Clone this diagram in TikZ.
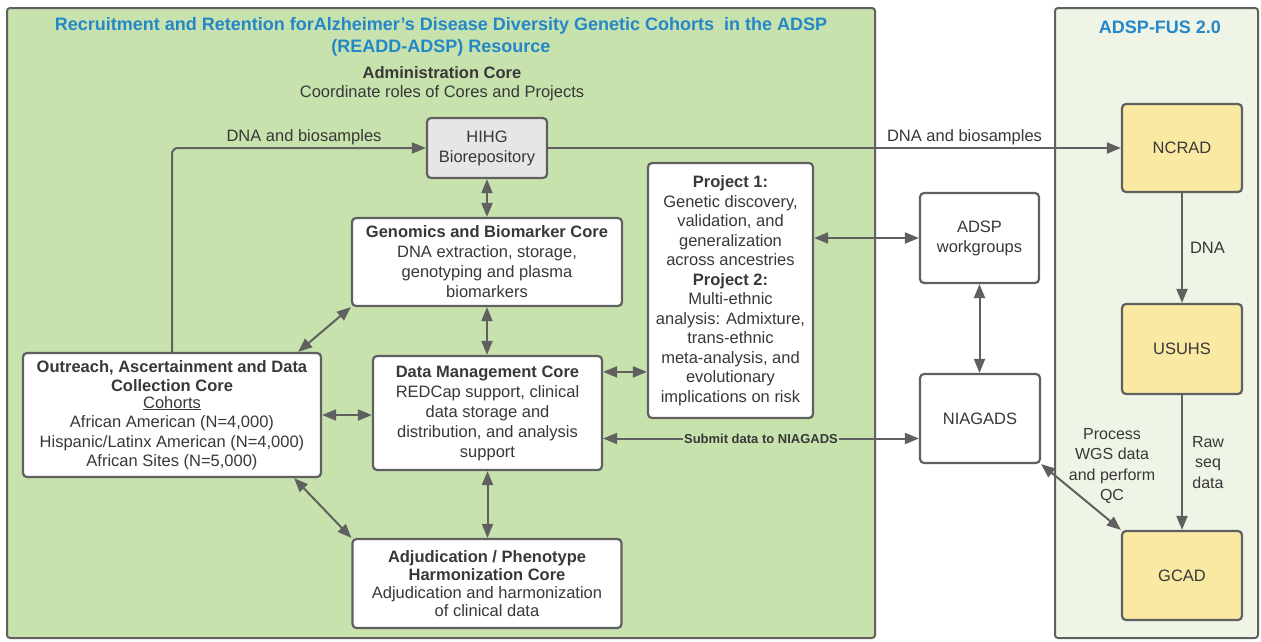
\documentclass[tikz,border=0pt]{standalone}
\usepackage{fontspec}
\setmainfont{Liberation Sans}
\usetikzlibrary{arrows.meta,calc}
\definecolor{linegray}{HTML}{606060}
\definecolor{textgray}{HTML}{383838}
\definecolor{cohortgreen}{HTML}{C8E2AE}
\definecolor{fusgreen}{HTML}{EEF4E6}
\definecolor{repogray}{HTML}{E6E6E6}
\definecolor{fusyellow}{HTML}{F9E9A3}
\definecolor{titleblue}{HTML}{2487C8}
\newcommand{\bodyfont}{\fontsize{16.5}{20}\selectfont}
\tikzset{
  core/.style={draw=linegray, line width=2.2pt, rounded corners=4pt, fill=white,
    align=center, inner sep=0pt, text=textgray, font=\bodyfont},
  repo/.style={core, fill=repogray},
  fusbox/.style={core, fill=fusyellow},
  lbl/.style={align=center, inner sep=1pt, text=textgray, font=\bodyfont},
  link/.style={draw=linegray, line width=2pt, -{Triangle[length=14pt,width=11pt]}},
  both/.style={link, {Triangle[length=14pt,width=11pt]}-{Triangle[length=14pt,width=11pt]}},
}

\begin{document}
\begin{tikzpicture}[x=1pt,y=-1pt]
\useasboundingbox (0,0) rectangle (1261,641);
% Drawing the two panels
\draw[draw=linegray, line width=2pt, fill=cohortgreen, rounded corners=3pt] (7,8) rectangle (875,638);
\draw[draw=linegray, line width=2pt, fill=fusgreen, rounded corners=3pt] (1055,8) rectangle (1258,638);
\node[lbl, text=titleblue, font=\fontsize{18}{22}\selectfont\bfseries] (title) at (441,37)
  {Recruitment and Retention forAlzheimer’s Disease Diversity Genetic Cohorts\ \ in the ADSP\\(READD-ADSP) Resource};
\node[lbl, font=\fontsize{16.5}{19}\selectfont] (admin) at (442,83.5)
  {\textbf{Administration Core}\\Coordinate roles of Cores and Projects};
\node[lbl, text=titleblue, font=\fontsize{18}{22}\selectfont\bfseries] (fustitle) at (1160,27) {ADSP-FUS 2.0};
% Done with panels; drawing cores
\node[repo, minimum width=120pt, minimum height=60pt] (hihg) at (487,148) {HIHG\\Biorepository};
\node[core, minimum width=270pt, minimum height=88pt] (genomics) at (487,262)
  {\textbf{Genomics and Biomarker Core}\\DNA extraction, storage,\\genotyping and plasma\\biomarkers};
\node[core, minimum width=229pt, minimum height=114pt] (datamgmt) at (487.5,413)
  {\textbf{Data Management Core}\\REDCap support, clinical\\data storage and\\distribution, and analysis\\support};
\node[core, minimum width=269pt, minimum height=89pt, font=\fontsize{16.5}{18}\selectfont] (adjud) at (487,583.5)
  {\textbf{Adjudication / Phenotype}\\\textbf{Harmonization Core}\\Adjudication and harmonization\\of clinical data};
\node[core, minimum width=298pt, minimum height=124pt, font=\fontsize{16.5}{19.5}\selectfont] (outreach) at (172,415)
  {\textbf{Outreach, Ascertainment and Data}\\\textbf{Collection Core}\\[-3pt]\underline{Cohorts}\\African American (N=4,000)\\Hispanic/Latinx American (N=4,000)\\African Sites (N=5,000)};
\node[core, minimum width=165pt, minimum height=255pt, font=\fontsize{16.5}{19.5}\selectfont] (project) at (730.5,290.5)
  {\textbf{Project 1:}\\Genetic discovery,\\validation, and\\generalization\\across ancestries\\\textbf{Project 2:}\\Multi-ethnic\\analysis: Admixture,\\trans-ethnic\\meta-analysis, and\\evolutionary\\implications on risk};
% Done with cores; drawing outside groups
\node[core, minimum width=119pt, minimum height=90pt] (adspwg) at (979.5,238) {ADSP\\workgroups};
\node[core, minimum width=120pt, minimum height=89pt] (niagads) at (980,418.5) {NIAGADS};
\node[fusbox, minimum width=120pt, minimum height=88pt] (ncrad) at (1182,148) {NCRAD};
\node[fusbox, minimum width=120pt, minimum height=90pt] (usuhs) at (1182,349) {USUHS};
\node[fusbox, minimum width=120pt, minimum height=89pt] (gcad) at (1182,575.5) {GCAD};
% Done with boxes; drawing connectors
\draw[link, rounded corners=6pt] (outreach.north) |- node[lbl, pos=0.76, above=1pt] (dnaleft) {DNA and biosamples} (hihg.west);
\draw[link] (hihg.east) -- node[lbl, pos=0.727, above=1pt] (dnaright) {DNA and biosamples} (ncrad.west);
\draw[both] (hihg.south) -- (hihg.south |- genomics.north);
\draw[both] (genomics.south) -- (genomics.south |- datamgmt.north);
\draw[both] (datamgmt.south) -- (datamgmt.south |- adjud.north);
\draw[both] ([xshift=-24pt]outreach.north east) -- (genomics.south west);
\draw[both] ([xshift=-28pt]outreach.south east) -- (adjud.north west);
\draw[both] (outreach.east) -- (outreach.east -| datamgmt.west);
\draw[both] ([yshift=-17pt]datamgmt.north east) -- ([yshift=-17pt]datamgmt.north east -| project.west);
\draw[both] (project.east |- adspwg.west) -- (adspwg.west);
\draw[both] (datamgmt.east |- niagads.west) ++(0,20) -- ([yshift=-20pt]niagads.west)
  node[lbl, pos=0.5, fill=cohortgreen, font=\fontsize{13}{15}\selectfont\bfseries] (submit) {Submit data to NIAGADS};
\draw[both] (adspwg.south) -- (adspwg.south |- niagads.north);
\draw[both] (niagads.south east) -- (gcad.north west);
\draw[link] (ncrad.south) -- node[lbl, right=6pt] (dnafus) {DNA} (usuhs.north);
\draw[link] (usuhs.south) -- node[lbl, right=8pt, font=\fontsize{16}{20.5}\selectfont] (rawseq) {Raw\\seq\\data} (gcad.north);
\node[lbl, font=\fontsize{16}{20.5}\selectfont] (wgslbl) at (1112,466) {Process\\WGS data\\and perform\\QC};
% Done with connectors
\end{tikzpicture}
\end{document}
